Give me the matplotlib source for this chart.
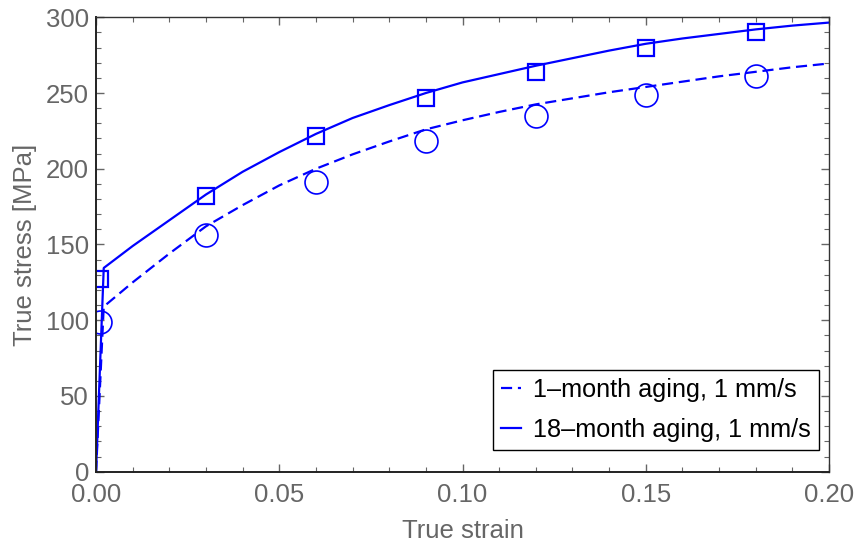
import matplotlib
matplotlib.use("Agg")
import matplotlib.pyplot as plt
from matplotlib.ticker import MultipleLocator

plt.rcParams['font.family'] = ['Liberation Sans', 'DejaVu Sans']

# measured points
strain_pts = [0.001, 0.03, 0.06, 0.09, 0.12, 0.15, 0.18]
stress_1m = [99, 156, 191.5, 218.5, 235, 248.5, 261]
stress_18m = [127, 182, 221.5, 247, 264, 280, 290]

# fitted curves (elastic part + hardening)
strain_fit = [0.0, 0.0021, 0.01, 0.02, 0.03, 0.04, 0.05, 0.06, 0.07, 0.08, 0.09,
              0.10, 0.11, 0.12, 0.13, 0.14, 0.15, 0.16, 0.17, 0.18, 0.19, 0.20]
fit_1m = [0, 109, 125, 144, 162, 176, 189, 200, 209.5, 218, 226,
          232, 237.5, 242.5, 246.5, 250.5, 254, 257.5, 261, 264, 267, 269.5]
fit_18m = [0, 134.5, 149, 166, 183, 198, 211, 223, 233.5, 242, 250,
           257, 262.5, 268, 273, 278, 282.5, 286, 289, 292, 294.5, 296.5]

blue = (0, 0, 1)
gray = '#666666'

fig = plt.figure(figsize=(8.59, 5.45), dpi=100)
ax = fig.add_axes([0.1118, 0.1345, 0.8533, 0.8338])

ax.plot(strain_fit, fit_1m, color=blue, lw=1.6, dashes=(5, 2.6),
        label='1–month aging, 1 mm/s')
ax.plot(strain_fit, fit_18m, color=blue, lw=1.6,
        label='18–month aging, 1 mm/s')
ax.plot(strain_pts, stress_1m, 'o', ms=16.5, mfc='none', mec=blue, mew=1.2)
ax.plot(strain_pts, stress_18m, 's', ms=12, mfc='none', mec=blue, mew=1.6)

ax.set_xlim(0, 0.2)
ax.set_ylim(0, 300)
ax.xaxis.set_major_locator(MultipleLocator(0.05))
ax.xaxis.set_minor_locator(MultipleLocator(0.01))
ax.yaxis.set_major_locator(MultipleLocator(50))
ax.yaxis.set_minor_locator(MultipleLocator(10))
ax.xaxis.set_major_formatter(matplotlib.ticker.FormatStrFormatter('%.2f'))

ax.tick_params(which='both', direction='in', top=True, right=True,
               color=gray, labelcolor=gray, labelsize=18.5)
ax.tick_params(which='major', length=6, width=1)
ax.tick_params(which='minor', length=3.5, width=0.8)
ax.tick_params(axis='x', pad=8)
ax.tick_params(axis='y', pad=5)

for side in ['left', 'bottom']:
    ax.spines[side].set_color('#222222')
    ax.spines[side].set_linewidth(1.4)
for side in ['top', 'right']:
    ax.spines[side].set_color('#333333')
    ax.spines[side].set_linewidth(1.0)

ax.set_xlabel('True strain', color=gray, fontsize=18.5)
ax.set_ylabel('True stress [MPa]', color=gray, fontsize=18.5)
ax.xaxis.set_label_coords(0.5, -0.103)
ax.yaxis.set_label_coords(-0.08, 0.5)

leg = ax.legend(loc='lower right', bbox_to_anchor=(0.986, 0.048),
                borderaxespad=0, fontsize=18.2, handlelength=0.8,
                handletextpad=0.45, fancybox=False, framealpha=1,
                edgecolor='black', borderpad=0.33, labelspacing=0.62)
leg.get_frame().set_linewidth(1.0)

fig.savefig('out.png', dpi=100)
